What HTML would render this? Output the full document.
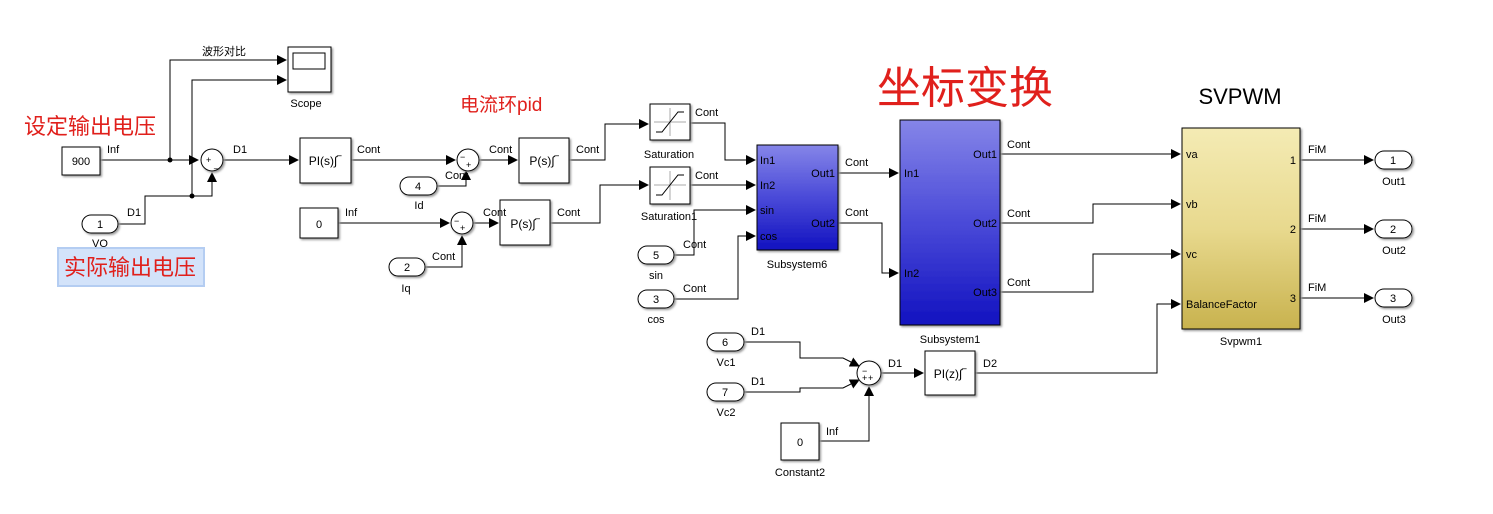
<!DOCTYPE html>
<html><head><meta charset="utf-8"><style>
body{margin:0;background:#fff}
svg text{font-family:"Liberation Sans","Noto Sans CJK SC",sans-serif}
</style></head><body>
<svg width="1493" height="509" viewBox="0 0 1493 509" xmlns="http://www.w3.org/2000/svg">
<defs>
<marker id="a" markerWidth="10" markerHeight="10" refX="9" refY="5" orient="auto" markerUnits="userSpaceOnUse"><path d="M0,0 L10,5 L0,10z" fill="#000"/></marker>
<linearGradient id="bl" x1="0" y1="0" x2="0" y2="1"><stop offset="0" stop-color="#8585e8"/><stop offset="0.5" stop-color="#4a4ad8"/><stop offset="1" stop-color="#1212c0"/></linearGradient>
<linearGradient id="yl" x1="0" y1="0" x2="0" y2="1"><stop offset="0" stop-color="#f4ebb4"/><stop offset="0.5" stop-color="#e8d98e"/><stop offset="1" stop-color="#c8b24e"/></linearGradient>
<filter id="sh"><feDropShadow dx="1.5" dy="1.5" stdDeviation="1" flood-color="#999"/></filter>
</defs>
<g fill="none" stroke="#000" stroke-width="1">
<path d="M100,160 H198" marker-end="url(#a)"/>
<path d="M170,160 V60 H286" marker-end="url(#a)"/>
<path d="M192,196 V80 H286" marker-end="url(#a)"/>
<path d="M118,224 H145 V196 H212 V173" marker-end="url(#a)"/>
<path d="M223,160 H298" marker-end="url(#a)"/>
<path d="M351,160 H455" marker-end="url(#a)"/>
<path d="M437,186 H466 V171" marker-end="url(#a)"/>
<path d="M479,160 H517" marker-end="url(#a)"/>
<path d="M569,160 H605 V124 H648" marker-end="url(#a)"/>
<path d="M338,223 H449" marker-end="url(#a)"/>
<path d="M425,267 H462 V236" marker-end="url(#a)"/>
<path d="M473,223 H498" marker-end="url(#a)"/>
<path d="M550,223 H600 V185 H648" marker-end="url(#a)"/>
<path d="M690,123 H725 V160 H755" marker-end="url(#a)"/>
<path d="M690,185 H755" marker-end="url(#a)"/>
<path d="M674,255 H694 V210 H755" marker-end="url(#a)"/>
<path d="M674,299 H738 V236 H755" marker-end="url(#a)"/>
<path d="M838,173 H898" marker-end="url(#a)"/>
<path d="M838,223 H882 V273 H898" marker-end="url(#a)"/>
<path d="M1000,154 H1180" marker-end="url(#a)"/>
<path d="M1000,223 H1093 V204 H1180" marker-end="url(#a)"/>
<path d="M1000,292 H1093 V254 H1180" marker-end="url(#a)"/>
<path d="M975,373 H1157 V304 H1180" marker-end="url(#a)"/>
<path d="M1300,160 H1373" marker-end="url(#a)"/>
<path d="M1300,229 H1373" marker-end="url(#a)"/>
<path d="M1300,298 H1373" marker-end="url(#a)"/>
<path d="M744,342 H800 V358 H843 L859,366" marker-end="url(#a)"/>
<path d="M744,392 H800 V388 H843 L859,380" marker-end="url(#a)"/>
<path d="M881,373 H923" marker-end="url(#a)"/>
<path d="M819,441 H869 V387" marker-end="url(#a)"/>
</g>
<circle cx="170" cy="160" r="2.5"/><circle cx="192" cy="196" r="2.5"/>
<g fill="#fff" stroke="#000" stroke-width="1" filter="url(#sh)">
<rect x="62" y="147" width="38" height="28"/>
<rect x="288" y="47" width="43" height="45"/>
<rect x="300" y="138" width="51" height="45"/>
<rect x="519" y="138" width="50" height="45"/>
<rect x="300" y="208" width="38" height="30"/>
<rect x="500" y="200" width="50" height="45"/>
<rect x="650" y="104" width="40" height="36"/>
<rect x="650" y="167" width="40" height="37"/>
<rect x="925" y="351" width="50" height="44"/>
<rect x="781" y="423" width="38" height="37"/>
<circle cx="212" cy="160" r="11"/><circle cx="468" cy="160" r="11"/><circle cx="462" cy="223" r="11"/><circle cx="869" cy="373" r="12"/>
<rect x="82" y="215" width="36" height="18" rx="9"/>
<rect x="400" y="177" width="37" height="18" rx="9"/>
<rect x="389" y="258" width="36" height="18" rx="9"/>
<rect x="638" y="246" width="36" height="18" rx="9"/>
<rect x="638" y="290" width="36" height="18" rx="9"/>
<rect x="707" y="333" width="37" height="18" rx="9"/>
<rect x="707" y="383" width="37" height="18" rx="9"/>
<rect x="1375" y="151" width="37" height="18" rx="9"/>
<rect x="1375" y="220" width="37" height="18" rx="9"/>
<rect x="1375" y="289" width="37" height="18" rx="9"/>
<rect x="757" y="145" width="81" height="105" fill="url(#bl)"/>
<rect x="900" y="120" width="100" height="205" fill="url(#bl)"/>
<rect x="1182" y="128" width="118" height="201" fill="url(#yl)"/>
</g>
<rect x="293" y="53" width="32" height="16" fill="#fff" stroke="#000"/>
<g stroke="#aaa" fill="none"><path d="M670,108 V136 M654,122 H686"/><path d="M670,171 V200 M654,185 H686"/></g>
<g stroke="#000" fill="none"><path d="M656,132 H662 L678,112 H684"/><path d="M656,195 H662 L678,175 H684"/></g>
<rect x="58" y="248" width="146" height="38" fill="#d3e3fa" stroke="#b4cdf2" stroke-width="2"/>
<g font-size="11" fill="#000">
<text x="202" y="55">波形对比</text>
<text x="107" y="153">Inf</text><text x="233" y="153">D1</text><text x="127" y="216">D1</text>
<text x="357" y="153">Cont</text><text x="489" y="153">Cont</text><text x="576" y="153">Cont</text>
<text x="445" y="179">Cont</text><text x="345" y="216">Inf</text><text x="483" y="216">Cont</text><text x="557" y="216">Cont</text>
<text x="432" y="260">Cont</text><text x="695" y="116">Cont</text><text x="695" y="179">Cont</text>
<text x="683" y="248">Cont</text><text x="683" y="292">Cont</text>
<text x="845" y="166">Cont</text><text x="845" y="216">Cont</text>
<text x="1007" y="148">Cont</text><text x="1007" y="217">Cont</text><text x="1007" y="286">Cont</text>
<text x="1308" y="153">FiM</text><text x="1308" y="222">FiM</text><text x="1308" y="291">FiM</text>
<text x="751" y="335">D1</text><text x="751" y="385">D1</text><text x="888" y="367">D1</text><text x="983" y="367">D2</text><text x="826" y="435">Inf</text>
</g>
<g font-size="11" fill="#000" text-anchor="middle">
<text x="81" y="165">900</text><text x="100" y="228">1</text><text x="418" y="190">4</text><text x="407" y="271">2</text>
<text x="319" y="228">0</text><text x="656" y="259">5</text><text x="656" y="303">3</text>
<text x="725" y="346">6</text><text x="725" y="396">7</text>
<text x="800" y="446">0</text>
<text x="1393" y="164">1</text><text x="1393" y="233">2</text><text x="1393" y="302">3</text>
<text x="306" y="107">Scope</text><text x="100" y="247">VO</text><text x="419" y="209">Id</text><text x="406" y="292">Iq</text>
<text x="669" y="158">Saturation</text><text x="669" y="220">Saturation1</text>
<text x="656" y="279">sin</text><text x="656" y="323">cos</text>
<text x="797" y="268">Subsystem6</text><text x="950" y="343">Subsystem1</text><text x="1241" y="345">Svpwm1</text>
<text x="726" y="366">Vc1</text><text x="726" y="416">Vc2</text><text x="800" y="476">Constant2</text>
<text x="1394" y="185">Out1</text><text x="1394" y="254">Out2</text><text x="1394" y="323">Out3</text>
<text x="325" y="165" font-size="12">PI(s)∫‾</text><text x="544" y="165" font-size="12">P(s)∫‾</text><text x="525" y="228" font-size="12">P(s)∫‾</text><text x="950" y="378" font-size="12">PI(z)∫‾</text>
<text x="1240" y="104" font-size="22">SVPWM</text>
</g>
<g font-size="9" fill="#000">
<text x="206" y="163">+</text><text x="214" y="167">_</text>
<text x="460" y="160">−</text><text x="466" y="168">+</text>
<text x="454" y="224">−</text><text x="460" y="231">+</text>
<text x="862" y="374">−</text><text x="862" y="381">+</text><text x="868" y="381">+</text>
</g>
<g font-size="11" fill="#000">
<text x="760" y="164">In1</text><text x="760" y="189">In2</text><text x="760" y="214">sin</text><text x="760" y="240">cos</text>
<text x="835" y="177" text-anchor="end">Out1</text><text x="835" y="227" text-anchor="end">Out2</text>
<text x="904" y="177">In1</text><text x="904" y="277">In2</text>
<text x="997" y="158" text-anchor="end">Out1</text><text x="997" y="227" text-anchor="end">Out2</text><text x="997" y="296" text-anchor="end">Out3</text>
<text x="1186" y="158">va</text><text x="1186" y="208">vb</text><text x="1186" y="258">vc</text><text x="1186" y="308">BalanceFactor</text>
<text x="1296" y="164" text-anchor="end">1</text><text x="1296" y="233" text-anchor="end">2</text><text x="1296" y="302" text-anchor="end">3</text>
</g>
<g fill="#e0201c">
<text x="24" y="134" font-size="22">设定输出电压</text>
<text x="64" y="275" font-size="22">实际输出电压</text>
<text x="460" y="111" font-size="19">电流环pid</text>
<text x="877" y="103" font-size="44">坐标变换</text>
</g>
</svg>
</body></html>
